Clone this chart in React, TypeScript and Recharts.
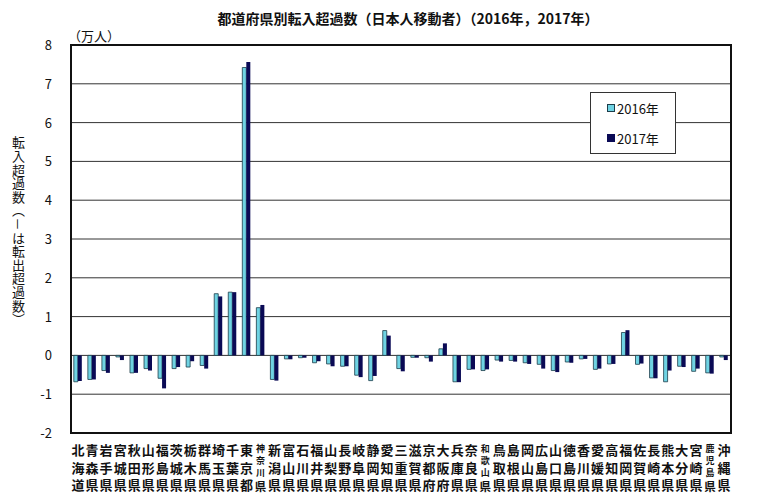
import { BarChart, Bar, XAxis, YAxis, CartesianGrid } from 'recharts';

const prefectures = [
  '北海道', '青森県', '岩手県', '宮城県', '秋田県', '山形県', '福島県', '茨城県', '栃木県', '群馬県',
  '埼玉県', '千葉県', '東京都', '神奈川県', '新潟県', '富山県', '石川県', '福井県', '山梨県', '長野県',
  '岐阜県', '静岡県', '愛知県', '三重県', '滋賀県', '京都府', '大阪府', '兵庫県', '奈良県', '和歌山県',
  '鳥取県', '島根県', '岡山県', '広島県', '山口県', '徳島県', '香川県', '愛媛県', '高知県', '福岡県',
  '佐賀県', '長崎県', '熊本県', '大分県', '宮崎県', '鹿児島県', '沖縄県',
];

// 転入超過数（万人）
const values2016 = [
  -0.68, -0.62, -0.39, -0.04, -0.45, -0.34, -0.59, -0.34, -0.30, -0.26,
  1.59, 1.63, 7.42, 1.23, -0.62, -0.09, -0.06, -0.19, -0.22, -0.28,
  -0.51, -0.65, 0.64, -0.34, -0.05, -0.06, 0.17, -0.68, -0.36, -0.39,
  -0.12, -0.13, -0.19, -0.23, -0.39, -0.17, -0.09, -0.36, -0.22, 0.59,
  -0.23, -0.58, -0.68, -0.28, -0.41, -0.45, -0.04,
];
const values2017 = [
  -0.66, -0.62, -0.45, -0.12, -0.45, -0.39, -0.85, -0.30, -0.15, -0.34,
  1.52, 1.63, 7.56, 1.30, -0.65, -0.10, -0.06, -0.15, -0.28, -0.28,
  -0.56, -0.53, 0.51, -0.41, -0.06, -0.16, 0.31, -0.69, -0.36, -0.36,
  -0.16, -0.16, -0.22, -0.34, -0.43, -0.19, -0.09, -0.34, -0.22, 0.65,
  -0.21, -0.59, -0.39, -0.30, -0.34, -0.47, -0.12,
];
const seriesNames = ['2016年', '2017年'];
const yTicks = [-2, -1, 0, 1, 2, 3, 4, 5, 6, 7, 8];

const data = prefectures.map((name, i) => ({ name, y2016: values2016[i], y2017: values2017[i] }));

const FONT = '"Noto Sans CJK JP", sans-serif';
const LIGHT = '#6fd3e3';
const DARK = '#0a0a55';

const PrefTick = ({ x, y, payload }: any) => {
  const chars: string[] = Array.from(payload.value as string);
  if (chars.length <= 3) {
    return (
      <text x={x} y={y} textAnchor="middle" fontSize={13} fontWeight={700} fontFamily={FONT} fill="#111">
        {chars.map((c, i) => (
          <tspan key={i} x={x} y={y + 14 + i * 17.5}>{c}</tspan>
        ))}
      </text>
    );
  }
  // 4文字の県名は縦に詰める
  return (
    <text x={x} y={y} textAnchor="middle" fontWeight={700} fontFamily={FONT} fill="#111">
      {chars.map((c, i) => (
        <tspan key={i} x={x} y={y + [11, 23, 35, 50][i]} fontSize={i === 3 ? 11.5 : 9}>{c}</tspan>
      ))}
    </text>
  );
};

const ValueTick = ({ y, payload }: any) => (
  <text x={52} y={y + 5} textAnchor="end" fontSize={13} fontFamily={FONT} fill="#111">
    {payload.value}
  </text>
);

export default function App() {
  return (
    <div style={{ position: 'absolute', left: 0, top: 0, width: 780, height: 497, background: '#fff' }}>
      <div
        style={{
          position: 'absolute',
          left: 0,
          width: 780,
          top: 8,
          textAlign: 'center',
          paddingLeft: 36,
          boxSizing: 'border-box',
          fontFamily: FONT,
          fontWeight: 700,
          fontSize: 14,
          color: '#111',
        }}
      >
        都道府県別転入超過数（日本人移動者）（2016年，2017年）
      </div>
      <div style={{ position: 'absolute', left: 68, top: 26, fontFamily: FONT, fontSize: 13, color: '#111' }}>
        （万人）
      </div>
      <div
        style={{
          position: 'absolute',
          left: 9,
          top: 136,
          writingMode: 'vertical-rl',
          fontFamily: FONT,
          fontSize: 13,
          letterSpacing: 0.6,
          color: '#111',
        }}
      >
        転入超過数（－は転出超過数）
      </div>
      <BarChart
        width={780}
        height={497}
        data={data}
        margin={{ top: 45, right: 49, bottom: 0, left: 0 }}
        barCategoryGap="20%"
        barGap={0}
      >
        <CartesianGrid vertical={false} stroke="#333" strokeWidth={1} />
        <XAxis dataKey="name" interval={0} tick={<PrefTick />} axisLine={false} tickLine={false} height={64} />
        <YAxis
          type="number"
          domain={[-2, 8]}
          ticks={yTicks}
          width={71}
          tick={<ValueTick />}
          axisLine={false}
          tickLine={false}
        />
        <Bar dataKey="y2016" name={seriesNames[0]} fill={LIGHT} stroke="#1d3d4a" strokeWidth={0.8} isAnimationActive={false} />
        <Bar dataKey="y2017" name={seriesNames[1]} fill={DARK} isAnimationActive={false} />
      </BarChart>
      <div
        style={{
          position: 'absolute',
          left: 70,
          top: 44,
          width: 662,
          height: 390,
          border: '2px solid #111',
          boxSizing: 'border-box',
          pointerEvents: 'none',
        }}
      />
      <div
        style={{
          position: 'absolute',
          left: 590,
          top: 92,
          width: 86,
          height: 62,
          background: '#fff',
          border: '1.5px solid #333',
          fontFamily: FONT,
          fontSize: 13,
          color: '#111',
          boxSizing: 'border-box',
          paddingLeft: 16,
          paddingTop: 4,
        }}
      >
        <div style={{ display: 'flex', alignItems: 'center', height: 22 }}>
          <span style={{ width: 6, height: 6, background: LIGHT, border: '1px solid #1d3d4a', marginRight: 2 }} />
          {seriesNames[0]}
        </div>
        <div style={{ display: 'flex', alignItems: 'center', height: 22, marginTop: 8 }}>
          <span style={{ width: 8, height: 8, background: DARK, marginRight: 2 }} />
          {seriesNames[1]}
        </div>
      </div>
    </div>
  );
}
